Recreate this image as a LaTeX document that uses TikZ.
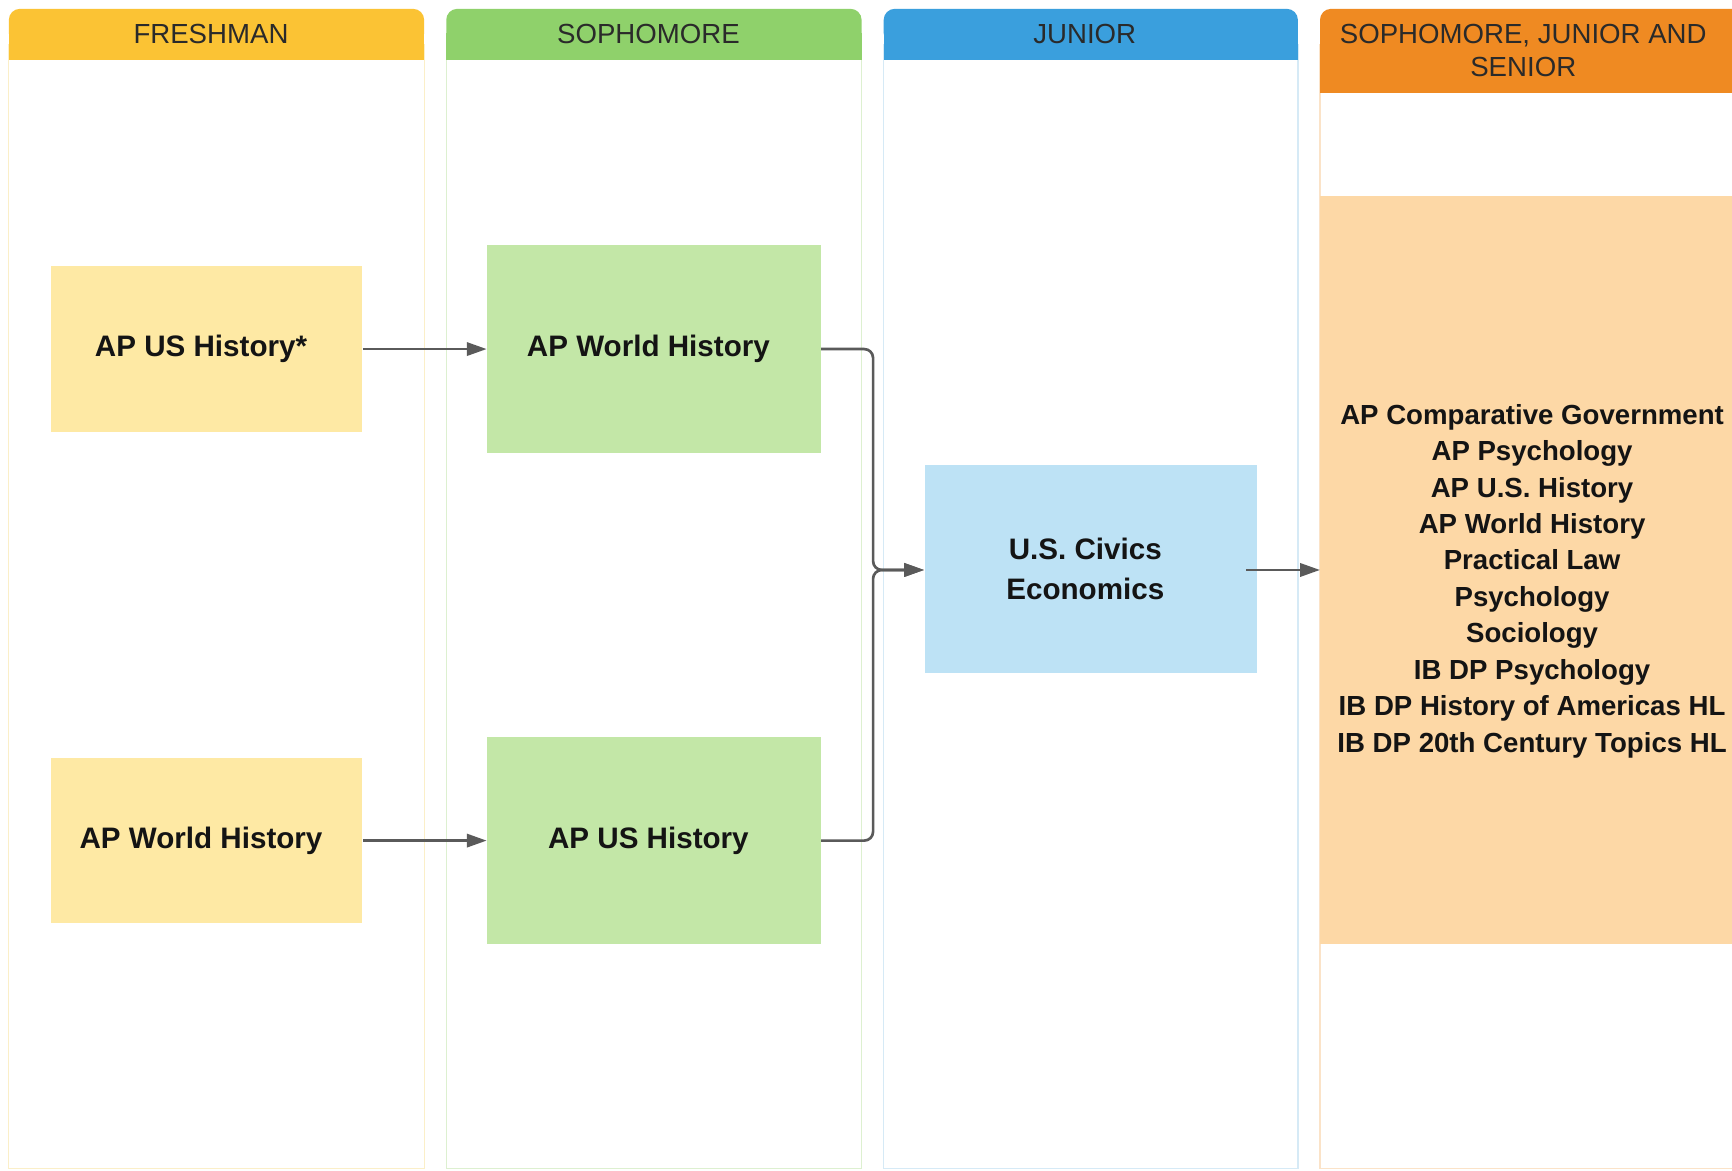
\documentclass[tikz,border=0pt]{standalone}
\usepackage{fontspec}
\setmainfont{Liberation Sans}
\usetikzlibrary{arrows.meta}
\definecolor{hA}{HTML}{FBC334}
\definecolor{hB}{HTML}{8FD16B}
\definecolor{hC}{HTML}{3A9FDD}
\definecolor{hD}{HTML}{EF8A22}
\definecolor{fA}{HTML}{FEE9A4}
\definecolor{fB}{HTML}{C3E7A7}
\definecolor{fC}{HTML}{BDE2F5}
\definecolor{fD}{HTML}{FDD8A6}
\definecolor{bA}{HTML}{FBEFC8}
\definecolor{bB}{HTML}{DDF0D0}
\definecolor{bC}{HTML}{D6EAF6}
\definecolor{bD}{HTML}{FBE3C8}
\definecolor{arr}{HTML}{5A5A5A}
\definecolor{txt}{HTML}{141414}
\definecolor{htxt}{HTML}{2A2A2A}
\newcommand{\padR}{\hspace*{5pt}}
\tikzset{
  colbody/.style={draw=#1, line width=0.6pt, fill=white},
  headtxt/.style={text=htxt, font=\fontsize{12.5}{15}\selectfont, align=center},
  course/.style={fill=#1, draw=none, inner sep=0pt, text=txt,
    font=\bfseries\fontsize{13.4}{18}\selectfont, align=center},
  listtxt/.style={text=txt, font=\bfseries\fontsize{12.5}{16.5}\selectfont, align=center},
  flow/.style={draw=arr, line width=1.2pt, rounded corners=4pt,
    -{Triangle[length=9pt,width=6pt]}}
}
\begin{document}
\begin{tikzpicture}[x=0.5pt,y=-0.5pt]
\useasboundingbox (0,0) rectangle (1568,1060);
\fill[white] (0,0) rectangle (1568,1060);
% column bodies
\draw[colbody=bA] (8,40) rectangle (384,1058);
\draw[colbody=bB] (404,40) rectangle (780,1058);
\draw[colbody=bC] (800,40) rectangle (1175,1058);
\draw[colbody=bD] (1195,40) rectangle (1590,1058);
% headers
\fill[hA, rounded corners=5pt] (8,8) rectangle (384,40);
\fill[hA] (8,30) rectangle (384,54);
\fill[hB, rounded corners=5pt] (404,8) rectangle (780,40);
\fill[hB] (404,30) rectangle (780,54);
\fill[hC, rounded corners=5pt] (800,8) rectangle (1175,40);
\fill[hC] (800,30) rectangle (1175,54);
\fill[hD, rounded corners=5pt] (1195,8) rectangle (1590,40);
\fill[hD] (1195,30) rectangle (1590,84);
\node[headtxt] (h1) at (191,31) {FRESHMAN};
\node[headtxt] (h2) at (587,31) {SOPHOMORE};
\node[headtxt] (h3) at (982,31) {JUNIOR};
\node[headtxt] (h4) at (1379,46) {SOPHOMORE, JUNIOR AND\\SENIOR};
% orange list box
\fill[fD] (1195,177) rectangle (1590,855);
\node[listtxt] (list) at (1387,526) {AP Comparative Government\\AP Psychology\\AP U.S. History\\AP World History\\Practical Law\\Psychology\\Sociology\\IB DP Psychology\\IB DP History of Americas HL\\IB DP 20th Century Topics HL};
\coordinate (listw) at (1195,516);
% course boxes
\node[course=fA, minimum width=141pt, minimum height=75pt] (f1) at (187,316) {AP US History*\padR};
\node[course=fA, minimum width=141pt, minimum height=75pt] (f2) at (187,761) {AP World History\padR};
\node[course=fB, minimum width=151pt, minimum height=94pt] (s1) at (592,316) {AP World History\padR};
\node[course=fB, minimum width=151pt, minimum height=94pt] (s2) at (592,761) {AP US History\padR};
\node[course=fC, minimum width=150.5pt, minimum height=94pt] (j1) at (987.5,515) {U.S. Civics\padR\\Economics\padR};
% connectors
\draw[flow] (f1.east) -- (s1.west);
\draw[flow] (f2.east) -- (s2.west);
\draw[flow] (s1.east) -- ++(47,0) |- ([yshift=-0.5pt]j1.west);
\draw[flow] (s2.east) -- ++(47,0) |- ([yshift=-0.5pt]j1.west);
\draw[flow, rounded corners=0pt] ([xshift=-5pt,yshift=-0.5pt]j1.east) -- (listw);
\end{tikzpicture}
\end{document}
